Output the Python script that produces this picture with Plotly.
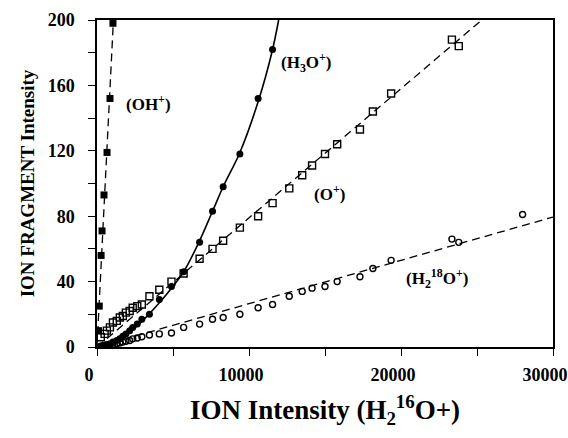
import plotly.graph_objects as go

# ---- data ----
x_common = [250, 500, 650, 850, 1050, 1300, 1500, 1700, 1900, 2150, 2350, 2650, 2950, 3450, 4100,
            4900, 5700, 6750, 7600, 8300, 9400, 10600, 11550, 12650, 13500, 14150, 15000,
            15800, 17300, 18150, 19350, 23350, 23800, 28000]

h3o_y = [0.5, 1, 1.5, 2, 3, 4, 5, 6.5, 8, 10, 12, 14, 17, 20, 29,
         37, 46, 64, 83, 98, 118, 152, 182]

o_y = [6, 8, 10, 12, 15, 16, 18, 19, 21, 22, 24, 25, 26, 31, 35,
       40, 45, 54, 60, 65, 73, 80, 88, 97, 105, 111, 118,
       124, 133, 144, 155, 188, 184]

h218o_y = [0.5, 0.8, 1, 1.2, 1.5, 2, 2.5, 3, 3.5, 4, 5, 5.5, 6.3, 7.3, 8,
           8.6, 12, 14, 17, 18, 20, 24, 26, 31, 34, 36, 37,
           40, 43, 48, 53, 66, 64, 81]

oh_x = [100, 150, 270, 330, 460, 660, 855, 1050]
oh_y = [10, 25, 56, 71, 93, 119, 152, 198]

# fitted curve for H3O+ (solid line)
h3o_fit_x = [0, 800, 1600, 2400, 3200, 4000, 4900, 5700, 6700, 7600, 8300, 9400, 10600, 11500, 11950]
h3o_fit_y = [0, 2, 6, 11, 18, 26, 36, 46, 64, 83, 98, 119, 150, 180, 200]

# slopes of the dashed linear fits
oh_slope = 0.185
o_slope = 0.0079
h218o_slope = 0.00265

x_ticks = [0, 5000, 10000, 15000, 20000, 25000, 30000]
x_ticklabels = ["0", "", "10000", "", "20000", "", "30000"]
y_ticks = [0, 20, 40, 60, 80, 100, 120, 140, 160, 180, 200]
y_ticklabels = ["0", "", "40", "", "80", "", "120", "", "160", "", "200"]

labels = ["(OH<sup>+</sup>)", "(H<sub>3</sub>O<sup>+</sup>)", "(O<sup>+</sup>)",
          "(H<sub>2</sub><sup>18</sup>O<sup>+</sup>)"]
label_x = [3400, 13800, 15300, 22400]
label_y = [149, 174, 94, 42]

FONT = "Liberation Serif"
YMAX = 200
XMAX = 30000


def line_ends(slope):
    x_end = min(XMAX, YMAX / slope)
    return [0, x_end], [0, slope * x_end]


fig = go.Figure()
dash = "8px,5px"
for s in (oh_slope, o_slope, h218o_slope):
    lx, ly = line_ends(s)
    fig.add_trace(go.Scatter(x=lx, y=ly, mode="lines",
                             line=dict(color="black", width=1.3, dash=dash),
                             showlegend=False, hoverinfo="skip"))

fig.add_trace(go.Scatter(x=h3o_fit_x, y=h3o_fit_y, mode="lines", line_shape="spline",
                         line=dict(color="black", width=1.6), showlegend=False))

fig.add_trace(go.Scatter(x=oh_x, y=oh_y, mode="markers",
                         marker=dict(symbol="square", size=7, color="black"), showlegend=False))
fig.add_trace(go.Scatter(x=x_common[:len(h3o_y)], y=h3o_y, mode="markers",
                         marker=dict(symbol="circle", size=7, color="black"), showlegend=False))
fig.add_trace(go.Scatter(x=x_common[:len(o_y)], y=o_y, mode="markers",
                         marker=dict(symbol="square-open", size=7, color="black",
                                     line=dict(width=1.4)), showlegend=False))
fig.add_trace(go.Scatter(x=x_common[:len(h218o_y)], y=h218o_y, mode="markers",
                         marker=dict(symbol="circle-open", size=6, color="black",
                                     line=dict(width=1.4)), showlegend=False))

for t, ax_, ay_ in zip(labels, label_x, label_y):
    fig.add_annotation(x=ax_, y=ay_, text=t, showarrow=False,
                       font=dict(family=FONT, size=17, color="black", weight="bold"))

axis_common = dict(showgrid=False, zeroline=False, showline=True, linecolor="black",
                   linewidth=1.5, mirror=True, ticks="outside", ticklen=7, tickwidth=1.3,
                   tickcolor="black", ticklabeloverflow="allow", automargin=False,
                   tickfont=dict(family=FONT, size=18, color="black", weight="bold"))

fig.update_xaxes(range=[0, XMAX], tickvals=x_ticks, ticktext=x_ticklabels,
                 ticklabelstandoff=4, ticklabelshift=-8,
                 title=dict(text="ION Intensity (H<sub>2</sub><sup>16</sup>O+)",
                            font=dict(family=FONT, size=27, color="black", weight="bold"),
                            standoff=16),
                 **axis_common)
fig.update_yaxes(range=[0, YMAX], tickvals=y_ticks, ticktext=y_ticklabels,
                 ticklabelstandoff=10,
                 title=dict(text="ION FRAGMENT Intensity",
                            font=dict(family=FONT, size=19, color="black", weight="bold"),
                            standoff=8),
                 **axis_common)

fig.update_layout(width=568, height=438, plot_bgcolor="white", paper_bgcolor="white",
                  margin=dict(l=97, r=15, t=20, b=91, autoexpand=False))

fig.write_html("out.html")
